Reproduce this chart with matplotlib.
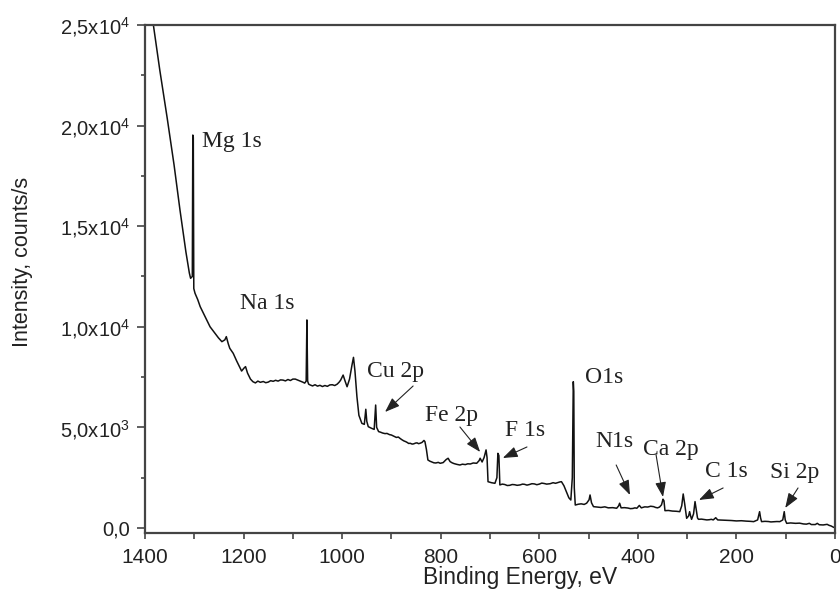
import numpy as np
import matplotlib
matplotlib.use('Agg')
import matplotlib.pyplot as plt
from matplotlib.ticker import FuncFormatter, MultipleLocator

plt.rcParams['font.family'] = ['Liberation Sans', 'DejaVu Sans']
plt.rcParams['mathtext.default'] = 'regular'

# survey spectrum, (binding energy eV, counts/s), one region per list
bg_high = [(1398, 27800), (1383, 25000), (1370, 22760), (1355, 20380), (1341, 18040),
           (1329, 15800), (1317, 13720), (1310, 12670), (1307.5, 12410), (1304, 12500),
           (1303, 19530), (1302, 19400), (1301, 11900), (1298.5, 11665), (1293, 11350),
           (1288, 11000), (1282, 10700), (1275, 10340), (1268, 10000), (1258, 9676),
           (1251, 9450), (1244, 9260), (1238, 9350), (1235, 9510), (1231, 9150),
           (1228, 8930), (1221, 8680), (1214, 8300), (1210, 8100), (1204, 7800),
           (1199, 7950), (1196, 8020), (1192, 7700), (1186, 7400), (1181, 7270)]
plateau = [(1176, 7210), (1171, 7300), (1166, 7240), (1160, 7280), (1155, 7220),
           (1150, 7250), (1145, 7320), (1140, 7290), (1135, 7340), (1130, 7300),
           (1125, 7360), (1120, 7350), (1115, 7310), (1110, 7380), (1105, 7330),
           (1100, 7400), (1095, 7400), (1090, 7350), (1085, 7300), (1080, 7250),
           (1076, 7200), (1073, 7300), (1071.5, 10340), (1070, 7300), (1068, 7150),
           (1065, 7110), (1060, 7060), (1055, 7120), (1050, 7050), (1045, 7090),
           (1040, 7030), (1035, 7080), (1030, 7040), (1025, 7110), (1020, 7120),
           (1015, 7080), (1010, 7150), (1006, 7250), (1003, 7350), (998, 7600),
           (994, 7300), (990, 7020), (985, 7400), (980, 8100), (977, 8480), (974, 7800)]
cu_region = [(970, 6525), (966, 5600), (960, 5200), (955, 5150), (952, 5900), (950, 5300),
             (947, 5035), (940, 4950), (935, 4900), (932, 6110), (930, 5000), (926, 4790),
             (922, 4760), (918, 4720), (913, 4690), (909, 4700), (904, 4640), (900, 4620),
             (895, 4560), (890, 4500), (886, 4520), (883, 4460), (879, 4390), (875, 4330),
             (871, 4290), (868, 4250), (865, 4200), (862, 4210), (858, 4170), (855, 4180),
             (851, 4220), (848, 4230), (845, 4190), (842, 4210), (838, 4250), (834, 4350),
             (832, 4290), (829, 3900), (826, 3380)]
fe_region = [(822, 3320), (818, 3280), (814, 3240), (810, 3230), (805, 3260), (801, 3215),
             (795, 3250), (789, 3400), (785, 3465), (781, 3300), (777, 3240), (773, 3200),
             (767, 3160), (761, 3130), (756, 3170), (750, 3150), (745, 3190), (740, 3180),
             (734, 3230), (727, 3215), (722, 3350), (720, 3465), (716, 3280), (712, 3500),
             (708, 3880), (706, 3500), (704, 2300), (697, 2250), (690, 2220), (686, 2500),
             (684, 3710), (682, 3600), (680, 2140)]
o_region = [(675, 2180), (670, 2160), (665, 2110), (660, 2120), (655, 2160), (650, 2150),
            (645, 2120), (639, 2140), (634, 2180), (630, 2170), (625, 2130), (620, 2160),
            (615, 2200), (610, 2190), (605, 2150), (600, 2180), (595, 2230), (590, 2210),
            (585, 2180), (578, 2200), (572, 2250), (567, 2220), (562, 2260), (558, 2290),
            (555, 2300), (550, 2100), (545, 1800), (540, 1500), (536, 1390), (533, 2500),
            (531, 7270), (530, 6800), (529, 2000), (527, 1140)]
low_region = [(521, 1180), (515, 1200), (509, 1170), (504, 1230), (499, 1400), (497, 1640),
              (494, 1250), (490, 1060), (482, 1040), (475, 1020), (467, 1050), (460, 1000),
              (451, 1010), (443, 980), (439, 1100), (437, 1230), (434, 1000), (427, 1010),
              (420, 990), (415, 960), (410, 970), (406, 1000), (402, 980), (397, 1120),
              (393, 1000), (386, 1050), (380, 1040), (374, 1080), (368, 1060), (364, 1020),
              (360, 1000), (356, 1040), (352, 1150), (349, 1430), (347, 1350), (345, 860),
              (338, 870), (330, 840), (322, 830), (315, 810), (311, 1100), (308, 1690),
              (305, 1200), (301, 480), (297, 600), (295, 810), (293, 600), (291, 430),
              (287, 700), (284, 1310), (282, 1000), (279, 500), (277, 430)]
tail_region = [(271, 440), (265, 420), (260, 400), (255, 410), (251, 430), (247, 400),
               (242, 510), (238, 400), (229, 390), (220, 380), (210, 370), (200, 350),
               (190, 360), (180, 340), (172, 330), (165, 315), (157, 400), (153, 810),
               (151, 500), (149, 315), (142, 330), (135, 320), (130, 300), (125, 310),
               (118, 320), (112, 315), (106, 400), (103, 810), (101, 400), (98, 230),
               (90, 250), (80, 230), (72, 240), (64, 200), (58, 190), (52, 230), (48, 170),
               (40, 170), (36, 230), (32, 160), (24, 150), (16, 180), (12, 130), (8, 100),
               (3, 35), (0, 20)]

spectrum = bg_high + plateau + cu_region + fe_region + o_region + low_region + tail_region
binding_energy = [p[0] for p in spectrum]
intensity = [p[1] for p in spectrum]

# peak labels: text, text position, arrow tail, arrow head (None = no arrow)
peak_labels = ['Mg 1s', 'Na 1s', 'Cu 2p', 'Fe 2p', 'F 1s', 'O1s', 'N1s', 'Ca 2p', 'C 1s', 'Si 2p']
label_be = [1284, 1207, 949, 832, 670, 507, 487, 390, 264, 132]
label_int = [19230, 11180, 7800, 5615, 4820, 7455, 4275, 3925, 2830, 2780]
arrow_tail = [None, None, (856, 7057), (761, 5020), (625, 4026), None, (444, 3131), (363, 3628), (227, 1988), (75, 1988)]
arrow_head = [None, None, (913, 5765), (720, 3777), (674, 3479), None, (416, 1640), (349, 1541), (276, 1392), (101, 994)]


def sci_fmt(v, pos):
    if abs(v) < 1e-9:
        return '0,0'
    e = int(np.floor(np.log10(abs(v))))
    m = v / 10 ** e
    s = ('%.1f' % m).replace('.', '{,}')
    return r'$%sx10^{%d}$' % (s, e)


fig = plt.figure(figsize=(8.4, 5.89), dpi=100)
ax = fig.add_axes([145 / 840, 56 / 589, 690 / 840, 508 / 589])

ax.plot(binding_energy, intensity, color='#111111', lw=1.1)

ax.set_xlim(1400, 0)
ax.set_ylim(-250, 25000)

ax.xaxis.set_major_locator(MultipleLocator(200))
ax.xaxis.set_minor_locator(MultipleLocator(100))
ax.yaxis.set_major_locator(MultipleLocator(5000))
ax.yaxis.set_minor_locator(MultipleLocator(2500))
ax.yaxis.set_major_formatter(FuncFormatter(sci_fmt))

for sp in ax.spines.values():
    sp.set_color('#444444')
    sp.set_linewidth(1.6)

ax.tick_params(axis='x', which='both', direction='out', length=4.5, width=1.2,
               color='#444444', labelsize=15, pad=6, labelcolor='#222222')
ax.tick_params(axis='y', which='major', direction='out', length=6, width=1.2,
               color='#444444', labelsize=14.5, pad=5, labelcolor='#222222')
ax.tick_params(axis='y', which='minor', direction='out', length=3, width=1.2, color='#444444')

ax.set_xlabel('Binding Energy, eV', fontsize=16.5, color='#222222', labelpad=0)
ax.xaxis.set_label_coords(0.543, -0.064)
fig.text(23 / 840, 1 - 262 / 589, 'Intensity, counts/s', rotation=90, ha='center', va='center',
         fontsize=15.5, color='#222222')

for name, bx, by, tail, head in zip(peak_labels, label_be, label_int, arrow_tail, arrow_head):
    ax.text(bx, by, name, ha='left', va='center', fontsize=17,
            family=['Liberation Serif', 'DejaVu Serif'], color='#222222')
    if tail is not None:
        ax.annotate('', xy=head, xytext=tail,
                    arrowprops=dict(arrowstyle='-|>,head_length=0.6,head_width=0.22',
                                    color='#222222', lw=0.8, mutation_scale=15,
                                    shrinkA=0, shrinkB=0))

fig.savefig('out.png', dpi=100)
